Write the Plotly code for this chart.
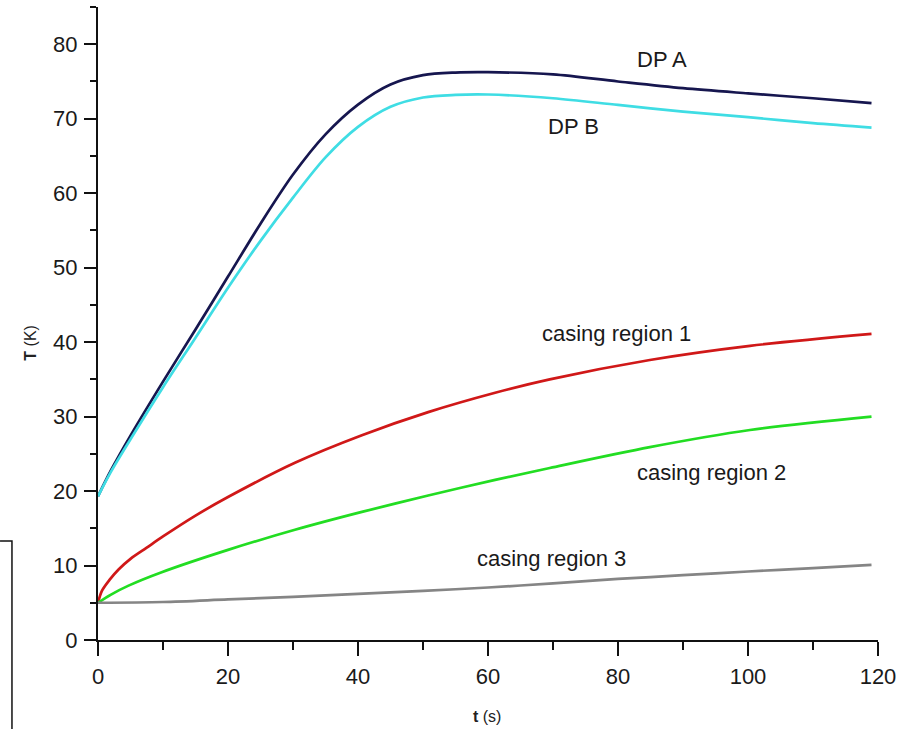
import plotly.graph_objects as go

# Time axis (s) and temperature rise (K) for each monitored location
t_dp_a = [0, 2, 5, 10, 15, 20, 25, 30, 35, 40, 45, 50, 55, 60, 70, 80, 90, 100, 110, 119]
T_dp_a = [19.3, 22.8, 27.45, 34.7, 41.7, 48.8, 55.9, 62.5, 67.9, 71.9, 74.6, 75.85,
          76.2, 76.25, 75.95, 75.0, 74.1, 73.4, 72.75, 72.1]

t_dp_b = [0, 2, 5, 10, 15, 20, 25, 30, 35, 40, 45, 50, 55, 60, 70, 80, 90, 100, 110, 119]
T_dp_b = [19.3, 22.6, 26.95, 33.95, 40.6, 47.3, 53.6, 59.4, 64.8, 68.9, 71.6, 72.85,
          73.2, 73.25, 72.75, 71.85, 70.95, 70.2, 69.4, 68.8]

t_case1 = [0, 0.6, 1.8, 3.2, 5, 7.5, 10, 15, 20, 30.3, 40.6, 50.8, 61.1, 69.5, 84.9, 100.3, 119]
T_case1 = [5.0, 6.6, 8.1, 9.5, 10.9, 12.4, 13.9, 16.7, 19.2, 23.8, 27.5, 30.6, 33.2, 35.0,
           37.6, 39.5, 41.1]

t_case2 = [0, 2, 4.7, 9.8, 20, 30.3, 40.6, 50.8, 61.1, 69.5, 84.9, 100.3, 119]
T_case2 = [5.0, 6.1, 7.3, 9.1, 12.1, 14.8, 17.2, 19.4, 21.5, 23.1, 25.9, 28.2, 30.0]

t_case3 = [0, 10, 20, 30, 40, 50, 60, 70, 80, 90, 100, 110, 119]
T_case3 = [5.0, 5.1, 5.45, 5.8, 6.2, 6.6, 7.05, 7.6, 8.2, 8.7, 9.2, 9.65, 10.1]

series_names = ["DP A", "DP B", "casing region 1", "casing region 2", "casing region 3"]
series_colors = ["#16164f", "#3fdde4", "#d01818", "#22dd22", "#858585"]
series_t = [t_dp_a, t_dp_b, t_case1, t_case2, t_case3]
series_T = [T_dp_a, T_dp_b, T_case1, T_case2, T_case3]

# Curve labels placed next to each line (t, T)
label_t = [86.8, 73.1, 79.8, 94.4, 69.7]
label_T = [77.9, 69.0, 41.2, 22.5, 10.9]

fig = go.Figure()
for name, color, xs, ys in zip(series_names, series_colors, series_t, series_T):
    fig.add_trace(go.Scatter(
        x=xs, y=ys, mode="lines", name=name,
        line=dict(color=color, width=2.7, shape="spline", smoothing=0.9),
        showlegend=False,
    ))

for name, lx, ly in zip(series_names, label_t, label_T):
    fig.add_annotation(x=lx, y=ly, text=name, showarrow=False,
                       font=dict(family="Liberation Sans, Arial", size=22, color="#1a1a1a"),
                       xanchor="center", yanchor="middle")

axis_font = dict(family="Liberation Sans, Arial", size=22, color="#1a1a1a")
fig.update_xaxes(
    range=[0, 120], tickvals=[0, 20, 40, 60, 80, 100, 120],
    showline=True, linecolor="#111", linewidth=2,
    ticks="outside", ticklen=14, tickwidth=2, tickcolor="#111",
    minor=dict(dtick=10, ticks="outside", ticklen=8, tickwidth=2, tickcolor="#111"),
    showgrid=False, zeroline=False, tickfont=axis_font, ticklabelstandoff=2,
)
fig.update_yaxes(
    range=[0, 85], tickvals=[0, 10, 20, 30, 40, 50, 60, 70, 80],
    showline=True, linecolor="#111", linewidth=2,
    ticks="outside", ticklen=12, tickwidth=2, tickcolor="#111",
    minor=dict(dtick=5, ticks="outside", ticklen=6, tickwidth=2, tickcolor="#111"),
    showgrid=False, zeroline=False, tickfont=axis_font, ticklabelstandoff=2,
)

# Axis titles
fig.add_annotation(xref="paper", yref="paper", x=0.4987, y=-0.1216,
                   text="<b>t</b> (s)", showarrow=False,
                   font=dict(family="Liberation Sans, Arial", size=16, color="#222"),
                   xanchor="center", yanchor="middle")
fig.add_annotation(xref="paper", yref="paper", x=-0.087, y=0.47,
                   text="<b>T</b> (K)", showarrow=False, textangle=-90,
                   font=dict(family="Liberation Sans, Arial", size=16, color="#222"),
                   xanchor="center", yanchor="middle")

# Thin frame edge along the lower left of the page
fig.add_shape(type="path", xref="paper", yref="paper",
              path="M -0.1256 0.1564 L -0.1103 0.1564 L -0.1103 -0.1406",
              line=dict(color="#111", width=1.5))

fig.update_layout(
    width=915, height=729,
    margin=dict(l=98, r=37, t=7, b=89),
    paper_bgcolor="white", plot_bgcolor="white",
)

fig.write_html("out.html")
